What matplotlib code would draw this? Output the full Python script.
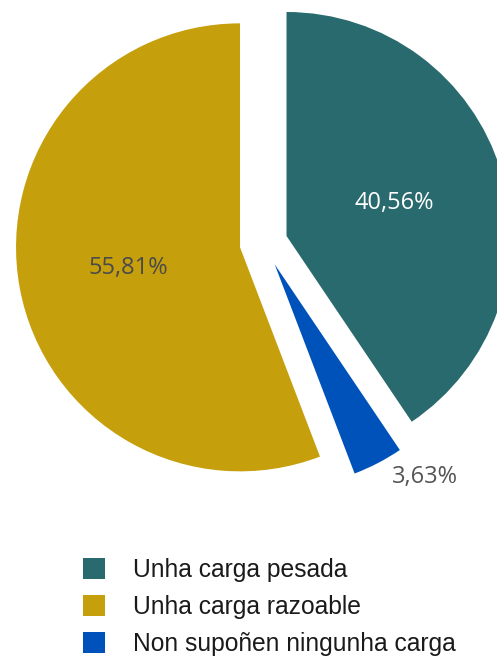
import matplotlib
matplotlib.use("Agg")
import matplotlib.pyplot as plt
import numpy as np

categories = ["Unha carga pesada", "Non supoñen ningunha carga", "Unha carga razoable"]
values = [40.56, 3.63, 55.81]
pct_labels = ["40,56%", "3,63%", "55,81%"]
colors = ["#296a6e", "#0052bb", "#c69f0d"]
label_colors = ["#ffffff", "#555555", "#4a4a4a"]
legend_order = [0, 2, 1]

W, H = 497, 657
R = 224.0
cx, cy = 263.6, 243.0  # pie centre in pixels from top-left

fig = plt.figure(figsize=(W / 100, H / 100), dpi=100)
ax = fig.add_axes([0, 0, 1, 1])

wedges, _ = ax.pie(values, colors=colors, startangle=90, counterclock=False,
                   radius=1.0, explode=[0.107] * 3,
                   wedgeprops=dict(linewidth=0))
ax.set_xlim(-cx / R, (W - cx) / R)
ax.set_ylim(-(H - cy) / R, cy / R)
ax.set_aspect("equal")
ax.axis("off")

for i, w in enumerate(wedges):
    thm = np.deg2rad(0.5 * (w.theta1 + w.theta2))
    x0, y0 = w.center
    if values[i] < 10:
        d = 1.08
        ax.annotate(pct_labels[i], (x0 + d * np.cos(thm), y0 + d * np.sin(thm)),
                    xytext=(4.5, 1.2), textcoords="offset points",
                    ha="left", va="center", fontsize=17, family="Open Sans",
                    color=label_colors[i])
    else:
        d = 0.505
        ax.text(x0 + d * np.cos(thm), y0 + d * np.sin(thm), pct_labels[i],
                ha="center", va="center", fontsize=17, family="Open Sans",
                color=label_colors[i])

handles = [wedges[i] for i in legend_order]
labels = [categories[i] for i in legend_order]
leg = fig.legend(handles, labels, loc="upper left",
                 bbox_to_anchor=(83 / W, 1 - 558 / H),
                 frameon=False, borderpad=0, borderaxespad=0,
                 handlelength=0.9, handleheight=0.9, handletextpad=1.15,
                 labelspacing=0.53,
                 prop=dict(family="Liberation Sans", size=17.7))
for t in leg.get_texts():
    t.set_color("#1a1a1a")

fig.savefig("out.png", dpi=100)
